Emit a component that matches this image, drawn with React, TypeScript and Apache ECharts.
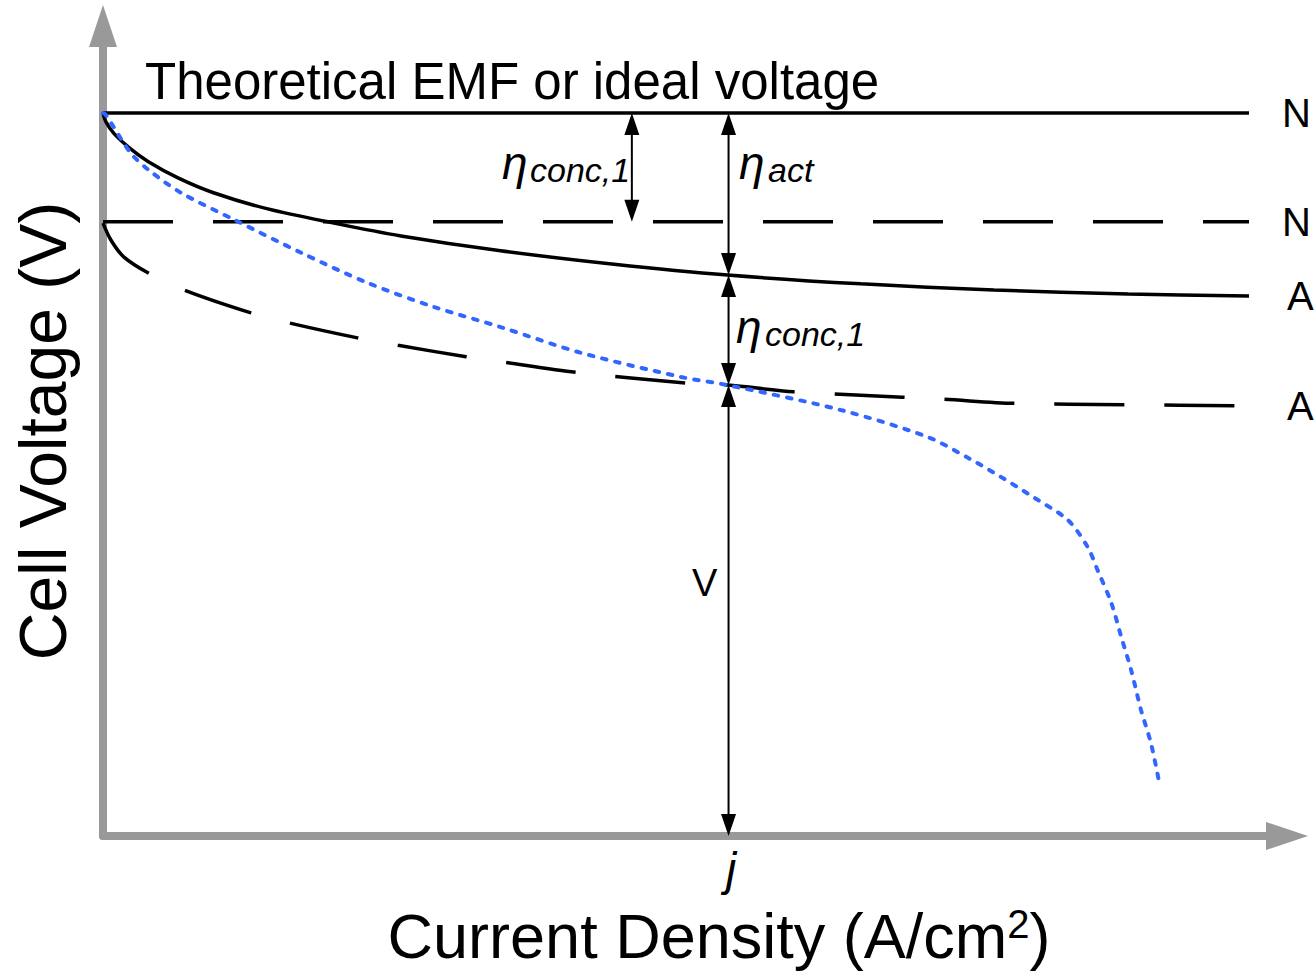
import React, { useEffect, useRef } from "react";
import * as echarts from "echarts";

// Schematic fuel-cell polarization diagram (arbitrary units)
const idealVoltage = 1.071; // theoretical EMF (solid horizontal line)
const nernstVoltage = 0.91; // dashed horizontal line
const lineEndJ = 1.1615;

// solid activation curve
const actJ = [0, 0.003, 0.011, 0.028, 0.046, 0.076, 0.112, 0.167, 0.234, 0.302, 0.403, 0.518, 0.633, 0.768, 0.903, 1.039, 1.1615];
const actV = [1.071, 1.058, 1.041, 1.018, 0.999, 0.975, 0.953, 0.929, 0.908, 0.889, 0.867, 0.847, 0.831, 0.818, 0.809, 0.803, 0.8];

// dashed activation curve
const actDashJ = [0, 0.008, 0.021, 0.046, 0.082, 0.15, 0.189, 0.258, 0.299, 0.368, 0.406, 0.479, 0.591, 0.633, 0.7, 0.768, 0.852, 0.923, 1.035, 1.1615];
const actDashV = [0.908, 0.883, 0.858, 0.834, 0.809, 0.775, 0.76, 0.738, 0.727, 0.71, 0.702, 0.687, 0.671, 0.668, 0.658, 0.653, 0.647, 0.641, 0.639, 0.637];

// blue dotted polarization curve
const polJ = [0, 0.003, 0.028, 0.046, 0.079, 0.133, 0.201, 0.269, 0.335, 0.403, 0.484, 0.586, 0.633, 0.748, 0.836, 0.877, 0.91, 0.944, 0.978, 0.998, 1.008, 1.022, 1.032, 1.042, 1.052, 1.062, 1.07];
const polV = [1.071, 1.068, 1.012, 0.987, 0.953, 0.913, 0.864, 0.819, 0.784, 0.754, 0.716, 0.68, 0.668, 0.631, 0.591, 0.56, 0.532, 0.501, 0.468, 0.428, 0.394, 0.345, 0.295, 0.246, 0.187, 0.138, 0.083];

// double-headed arrows: x position, upper end, lower end
const arrowJ = [0.536, 0.634, 0.634, 0.634];
const arrowTop = [1.071, 1.071, 0.831, 0.668];
const arrowBottom = [0.91, 0.831, 0.668, 0];

const zip = (a: number[], b: number[]) => a.map((v, i) => [v, b[i]]);

const FONT = "'Liberation Sans', Arial, sans-serif";

export default function App() {
  const ref = useRef<HTMLDivElement>(null);
  useEffect(() => {
    if (!ref.current) return;
    const chart = echarts.init(ref.current, null, { renderer: "svg" });
    const black = "#000";
    const endLbl = (txt: string, dist: number) => ({
      show: true,
      formatter: txt,
      distance: dist,
      fontSize: 40,
      fontFamily: FONT,
      color: black,
    });
    chart.setOption({
      animation: false,
      backgroundColor: "#fff",
      grid: { left: 103, right: 28, top: 26, bottom: 140, containLabel: false, outerBoundsMode: "none" },
      xAxis: {
        type: "value",
        min: 0,
        max: 1.2,
        name: "Current Density (A/cm{sup|2})",
        nameLocation: "middle",
        nameGap: 68,
        nameTextStyle: {
          fontSize: 63,
          fontFamily: FONT,
          color: black,
          padding: [0, 0, 0, 48],
          rich: { sup: { fontSize: 40, fontFamily: FONT, color: black, verticalAlign: "top" } },
        },
        axisLine: { onZero: false, symbol: ["none", "triangle"], symbolSize: [28, 42], lineStyle: { color: "#999", width: 8 } },
        axisTick: { show: false },
        axisLabel: { show: false },
        splitLine: { show: false },
      },
      yAxis: {
        type: "value",
        min: 0,
        max: 1.2,
        name: "Cell Voltage (V)",
        nameLocation: "middle",
        nameGap: 27,
        nameTextStyle: { fontSize: 66, fontFamily: FONT, color: black },
        axisLine: { onZero: false, symbol: ["none", "triangle"], symbolSize: [28, 42], lineStyle: { color: "#999", width: 8 } },
        axisTick: { show: false },
        axisLabel: { show: false },
        splitLine: { show: false },
      },
      series: [
        {
          type: "line",
          data: [[0, idealVoltage], [lineEndJ, idealVoltage]],
          showSymbol: false,
          lineStyle: { color: black, width: 3.5 },
          endLabel: endLbl("N", 33),
          z: 3,
        },
        {
          type: "line",
          data: [[0, nernstVoltage], [lineEndJ, nernstVoltage]],
          showSymbol: false,
          lineStyle: { color: black, width: 3.5, type: [70, 40] },
          endLabel: endLbl("N", 33),
          z: 3,
        },
        {
          type: "line",
          data: zip(actJ, actV),
          showSymbol: false,
          smooth: 0.3,
          lineStyle: { color: black, width: 3.5 },
          endLabel: endLbl("A", 38),
          z: 3,
        },
        {
          type: "line",
          data: zip(actDashJ, actDashV),
          showSymbol: false,
          smooth: 0.3,
          lineStyle: { color: black, width: 3.5, type: [70, 40] },
          endLabel: endLbl("A", 38),
          z: 3,
        },
        {
          type: "line",
          data: zip(polJ, polV),
          showSymbol: false,
          smooth: 0.3,
          lineStyle: { color: "#3366ff", width: 4, type: [4.5, 9], cap: "round" },
          z: 4,
        },
        {
          type: "custom",
          data: arrowJ.map((j, i) => [j, arrowTop[i], arrowBottom[i]]),
          encode: { x: 0, y: [1, 2] },
          z: 5,
          renderItem: (_p: any, api: any) => {
            const a = api.coord([api.value(0), api.value(1)]);
            const b = api.coord([api.value(0), api.value(2)]);
            const L = 22;
            const W = 7.5;
            return {
              type: "group",
              children: [
                { type: "line", shape: { x1: a[0], y1: a[1] + L - 2, x2: b[0], y2: b[1] - L + 2 }, style: { stroke: black, lineWidth: 2 } },
                { type: "polygon", shape: { points: [[a[0], a[1]], [a[0] - W, a[1] + L], [a[0] + W, a[1] + L]] }, style: { fill: black } },
                { type: "polygon", shape: { points: [[b[0], b[1]], [b[0] - W, b[1] - L], [b[0] + W, b[1] - L]] }, style: { fill: black } },
              ],
            };
          },
        },
      ],
      graphic: [
        { type: "text", left: 145, top: 56, style: { text: "Theoretical EMF or ideal voltage", fontSize: 51, fontFamily: FONT, fill: black } },
        { type: "text", left: 502, top: 140, style: { text: "η", fontSize: 46, fontStyle: "italic", fontFamily: FONT, fill: black } },
        { type: "text", left: 530, top: 153, style: { text: "conc,1", fontSize: 34, fontStyle: "italic", fontFamily: FONT, fill: black } },
        { type: "text", left: 739, top: 140, style: { text: "η", fontSize: 46, fontStyle: "italic", fontFamily: FONT, fill: black } },
        { type: "text", left: 768, top: 153, style: { text: "act", fontSize: 34, fontStyle: "italic", fontFamily: FONT, fill: black } },
        { type: "text", left: 736, top: 304, style: { text: "η", fontSize: 46, fontStyle: "italic", fontFamily: FONT, fill: black } },
        { type: "text", left: 765, top: 317, style: { text: "conc,1", fontSize: 34, fontStyle: "italic", fontFamily: FONT, fill: black } },
        { type: "text", left: 692, top: 564, style: { text: "V", fontSize: 38, fontFamily: FONT, fill: black } },
        { type: "text", left: 726, top: 846, style: { text: "j", fontSize: 46, fontStyle: "italic", fontFamily: FONT, fill: black } },
      ],
    });
    return () => chart.dispose();
  }, []);
  return <div ref={ref} style={{ position: "absolute", left: 0, top: 0, width: 1315, height: 976 }} />;
}
